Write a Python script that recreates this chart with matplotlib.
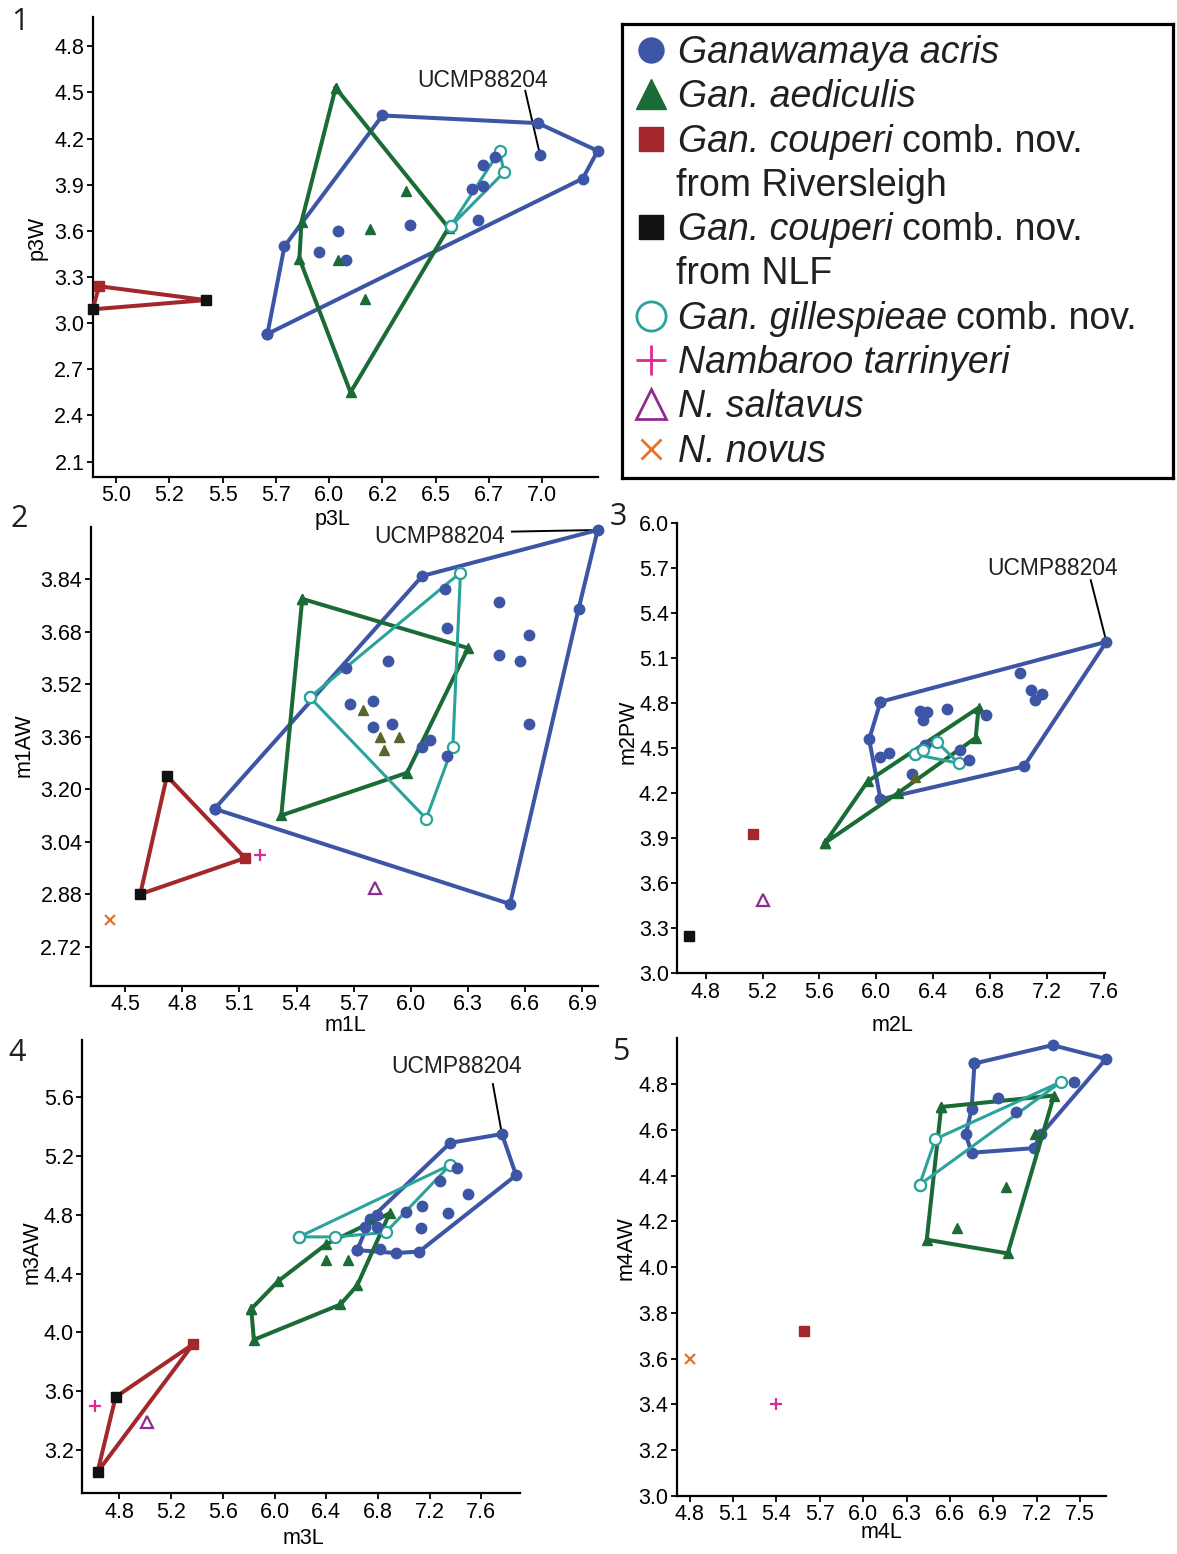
import matplotlib
matplotlib.use('Agg')
import matplotlib.pyplot as plt

plt.rcParams['font.family'] = ['Liberation Sans', 'DejaVu Sans']

W, H = 1177, 1554

BLUE = '#3d55a5'
GREEN = '#1b6b36'
OLIVE = '#56672c'
RED = '#a4282b'
BLACK = '#111111'
TEAL = '#2aa39b'
MAGENTA = '#dd2a8e'
PURPLE = '#8e2d8f'
ORANGE = '#e2732a'
INK = '#231f20'

# ---- panel 1: p3L vs p3W ----
p1_acris_hull = [(5.71, 2.93), (5.79, 3.50), (6.25, 4.35), (6.98, 4.30), (7.26, 4.12), (7.19, 3.94)]
p1_acris = [(6.04, 3.60), (5.95, 3.46), (6.08, 3.41), (6.38, 3.64), (6.70, 3.67), (6.67, 3.87),
            (6.72, 3.89), (6.72, 4.03), (6.78, 4.08), (6.99, 4.09)]
p1_aed_hull = [(6.03, 4.53), (6.56, 3.62), (6.10, 2.55), (5.86, 3.42), (5.87, 3.66)]
p1_aed = [(6.36, 3.86), (6.19, 3.61), (6.04, 3.41), (6.17, 3.16)]
p1_gill_hull = [(6.57, 3.63), (6.80, 4.12), (6.82, 3.98)]
p1_coup_r = [(4.92, 3.24)]
p1_coup_n = [(5.42, 3.15), (4.89, 3.09)]
p1_ucmp = (6.99, 4.09)

# ---- panel 2: m1L vs m1AW ----
p2_acris_hull = [(4.97, 3.14), (6.06, 3.85), (6.98, 3.99), (6.88, 3.75), (6.52, 2.85)]
p2_acris = [(5.66, 3.57), (6.18, 3.81), (6.19, 3.69), (6.46, 3.77), (6.62, 3.67), (6.46, 3.61),
            (6.57, 3.59), (5.88, 3.59), (5.68, 3.46), (5.80, 3.47), (5.80, 3.39), (5.90, 3.40),
            (6.10, 3.35), (6.06, 3.33), (6.19, 3.30), (6.62, 3.40)]
p2_aed_hull = [(5.43, 3.78), (6.30, 3.63), (5.98, 3.25), (5.32, 3.12)]
p2_aed = [(5.75, 3.44), (5.84, 3.36), (5.94, 3.36), (5.86, 3.32)]
p2_gill_hull = [(5.47, 3.48), (6.26, 3.86), (6.22, 3.33), (6.08, 3.11)]
p2_coup_r = [(5.13, 2.99)]
p2_coup_n = [(4.72, 3.24), (4.58, 2.88)]
p2_tarr = [(5.21, 3.00)]
p2_salt = [(5.81, 2.90)]
p2_novus = [(4.42, 2.80)]
p2_ucmp = (6.98, 3.99)

# ---- panel 3: m2L vs m2PW ----
p3_acris_hull = [(6.03, 4.81), (7.62, 5.21), (7.04, 4.38), (6.03, 4.16), (5.95, 4.56)]
p3_acris = [(6.31, 4.75), (6.36, 4.74), (6.33, 4.69), (6.50, 4.76), (6.77, 4.72), (7.01, 5.00),
            (7.09, 4.89), (7.17, 4.86), (7.12, 4.82), (6.03, 4.44), (6.09, 4.47), (6.25, 4.33),
            (6.59, 4.49), (6.65, 4.42), (6.34, 4.52)]
p3_aed_hull = [(5.64, 3.87), (5.94, 4.28), (6.72, 4.77), (6.70, 4.57), (6.15, 4.20)]
p3_aed = [(6.27, 4.31)]
p3_gill_hull = [(6.27, 4.46), (6.43, 4.54), (6.58, 4.40)]
p3_gill = [(6.33, 4.49)]
p3_coup_r = [(5.13, 3.93)]
p3_coup_n = [(4.68, 3.25)]
p3_salt = [(5.20, 3.49)]
p3_ucmp = (7.62, 5.21)

# ---- panel 4: m3L vs m3AW ----
p4_acris_hull = [(6.64, 4.56), (6.74, 4.77), (7.36, 5.29), (7.76, 5.35), (7.87, 5.07),
                 (7.12, 4.55), (6.94, 4.54)]
p4_acris = [(6.70, 4.72), (6.79, 4.72), (6.82, 4.57), (7.02, 4.82), (7.14, 4.86), (7.13, 4.71),
            (7.28, 5.03), (7.34, 4.81), (7.41, 5.12), (7.50, 4.94), (6.79, 4.80)]
p4_aed_hull = [(5.82, 4.16), (6.03, 4.35), (6.40, 4.60), (6.89, 4.81), (6.64, 4.32),
               (6.51, 4.19), (5.84, 3.95)]
p4_aed = [(6.40, 4.49), (6.57, 4.49)]
p4_gill_hull = [(6.19, 4.65), (7.36, 5.14), (6.86, 4.68), (6.47, 4.65)]
p4_coup_r = [(5.37, 3.92)]
p4_coup_n = [(4.77, 3.56), (4.63, 3.05)]
p4_tarr = [(4.61, 3.50)]
p4_salt = [(5.01, 3.39)]
p4_ucmp = (7.76, 5.35)

# ---- panel 5: m4L vs m4AW ----
p5_acris_hull = [(6.77, 4.89), (7.31, 4.97), (7.68, 4.91), (7.23, 4.58), (7.18, 4.52),
                 (6.75, 4.50), (6.71, 4.58), (6.75, 4.69)]
p5_acris = [(6.93, 4.74), (7.06, 4.68), (7.46, 4.81)]
p5_aed_hull = [(6.54, 4.70), (7.32, 4.75), (7.00, 4.06), (6.44, 4.12)]
p5_aed = [(6.65, 4.17), (6.99, 4.35), (7.19, 4.58)]
p5_gill_hull = [(6.39, 4.36), (6.50, 4.56), (7.37, 4.81)]
p5_coup_r = [(5.59, 3.72)]
p5_tarr = [(5.40, 3.40)]
p5_novus = [(4.80, 3.60)]

legend_italic = ['Ganawamaya acris', 'Gan. aediculis', 'Gan. couperi', '', 'Gan. couperi', '',
                 'Gan. gillespieae', 'Nambaroo tarrinyeri', 'N. saltavus', 'N. novus']
legend_plain = ['', '', 'comb. nov.', 'from Riversleigh', 'comb. nov.', 'from NLF',
                'comb. nov.', '', '', '']


def box(l, t, r, b):
    return [l / W, 1 - b / H, (r - l) / W, (b - t) / H]


def xs(p):
    return [q[0] for q in p]


def ys(p):
    return [q[1] for q in p]


def hull(ax, p, color, marker, lw=2.9, ms=7.5, open_marker=False):
    x = xs(p) + [p[0][0]]
    y = ys(p) + [p[0][1]]
    if open_marker:
        ax.plot(x, y, color=color, lw=lw, marker=marker, ms=ms, mfc='white', mec=color,
                mew=1.6, clip_on=False, zorder=3)
    else:
        ax.plot(x, y, color=color, lw=lw, marker=marker, ms=ms, clip_on=False, zorder=3)


def line_only(ax, p, color, lw=2.9):
    ax.plot(xs(p) + [p[0][0]], ys(p) + [p[0][1]], color=color, lw=lw, clip_on=False, zorder=3)


def pts(ax, p, color, marker, ms=7.5, mfc=None, mew=1.0):
    ax.plot(xs(p), ys(p), ls='none', marker=marker, ms=ms, color=color,
            mfc=mfc if mfc else color, mec=color, mew=mew, clip_on=False, zorder=4)


def setup(ax, xlim, ylim, xt, xtl, yt, ytl, xlabel, ylabel, xlc, ylc):
    ax.set_xlim(xlim)
    ax.set_ylim(ylim)
    ax.set_xticks(xt)
    ax.set_xticklabels(xtl)
    ax.set_yticks(yt)
    ax.set_yticklabels(ytl)
    for s in ['top', 'right']:
        ax.spines[s].set_visible(False)
    for s in ['left', 'bottom']:
        ax.spines[s].set_linewidth(1.6)
    ax.tick_params(direction='out', length=4, width=1.3, labelsize=15.5, pad=2, colors='black')
    ax.set_xlabel(xlabel, fontsize=15.5)
    ax.set_ylabel(ylabel, fontsize=15.5)
    ax.xaxis.label.set_va('center')
    ax.yaxis.label.set_va('center')
    ax.xaxis.set_label_coords(*xlc)
    ax.yaxis.set_label_coords(*ylc)
    ax.patch.set_alpha(0)


def ucmp(ax, txt, start, pt):
    ax.text(txt[0], txt[1], 'UCMP88204', ha='center', va='center', fontsize=16.5, color=INK)
    ax.plot([start[0], pt[0]], [start[1], pt[1]], color='black', lw=1.4, clip_on=False, zorder=2)


fig = plt.figure(figsize=(W / 100, H / 100), dpi=100)

# panel 1
ax1 = fig.add_axes(box(92.7, 17, 597.7, 477))
setup(ax1, (4.89, 7.26), (2.0, 4.99),
      [5.0, 5.25, 5.5, 5.75, 6.0, 6.25, 6.5, 6.75, 7.0],
      ['5.0', '5.2', '5.5', '5.7', '6.0', '6.2', '6.5', '6.7', '7.0'],
      [2.1, 2.4, 2.7, 3.0, 3.3, 3.6, 3.9, 4.2, 4.5, 4.8],
      ['2.1', '2.4', '2.7', '3.0', '3.3', '3.6', '3.9', '4.2', '4.5', '4.8'],
      'p3L', 'p3W', (0.474, -0.092), (-0.110, 0.52))
hull(ax1, p1_acris_hull, BLUE, 'o')
hull(ax1, p1_aed_hull, GREEN, '^')
hull(ax1, p1_gill_hull, TEAL, 'o', lw=2.2, ms=8, open_marker=True)
line_only(ax1, p1_coup_r + p1_coup_n, RED)
pts(ax1, p1_acris, BLUE, 'o')
pts(ax1, p1_aed, GREEN, '^')
pts(ax1, p1_coup_r, RED, 's', ms=7)
pts(ax1, p1_coup_n, BLACK, 's', ms=7)
ucmp(ax1, (6.72, 4.58), (6.92, 4.51), p1_ucmp)

# panel 2
ax2 = fig.add_axes(box(90.7, 526.7, 597.7, 986))
setup(ax2, (4.32, 6.98), (2.60, 4.00),
      [4.5, 4.8, 5.1, 5.4, 5.7, 6.0, 6.3, 6.6, 6.9],
      ['4.5', '4.8', '5.1', '5.4', '5.7', '6.0', '6.3', '6.6', '6.9'],
      [2.72, 2.88, 3.04, 3.20, 3.36, 3.52, 3.68, 3.84],
      ['2.72', '2.88', '3.04', '3.20', '3.36', '3.52', '3.68', '3.84'],
      'm1L', 'm1AW', (0.502, -0.085), (-0.132, 0.525))
hull(ax2, p2_acris_hull, BLUE, 'o')
hull(ax2, p2_aed_hull, GREEN, '^')
hull(ax2, p2_gill_hull, TEAL, 'o', lw=2.2, ms=8, open_marker=True)
line_only(ax2, p2_coup_n[:1] + p2_coup_r + p2_coup_n[1:], RED)
pts(ax2, p2_acris, BLUE, 'o')
pts(ax2, p2_aed, OLIVE, '^')
pts(ax2, p2_coup_r, RED, 's', ms=7)
pts(ax2, p2_coup_n, BLACK, 's', ms=7)
pts(ax2, p2_tarr, MAGENTA, '+', ms=8, mew=1.6)
pts(ax2, p2_salt, PURPLE, '^', ms=8, mfc='white', mew=1.6)
pts(ax2, p2_novus, ORANGE, 'x', ms=7, mew=1.6)
ucmp(ax2, (6.15, 3.97), (6.53, 3.985), p2_ucmp)

# panel 3
ax3 = fig.add_axes(box(677.3, 523.3, 1105, 973.3))
setup(ax3, (4.60, 7.61), (3.0, 6.0),
      [4.8, 5.2, 5.6, 6.0, 6.4, 6.8, 7.2, 7.6],
      ['4.8', '5.2', '5.6', '6.0', '6.4', '6.8', '7.2', '7.6'],
      [3.0, 3.3, 3.6, 3.9, 4.2, 4.5, 4.8, 5.1, 5.4, 5.7, 6.0],
      ['3.0', '3.3', '3.6', '3.9', '4.2', '4.5', '4.8', '5.1', '5.4', '5.7', '6.0'],
      'm2L', 'm2PW', (0.504, -0.115), (-0.115, 0.536))
hull(ax3, p3_acris_hull, BLUE, 'o')
hull(ax3, p3_aed_hull, GREEN, '^')
hull(ax3, p3_gill_hull, TEAL, 'o', lw=2.2, ms=8, open_marker=True)
pts(ax3, p3_acris, BLUE, 'o')
pts(ax3, p3_aed, OLIVE, '^')
pts(ax3, p3_gill, TEAL, 'o', ms=8, mfc='white', mew=1.6)
pts(ax3, p3_coup_r, RED, 's', ms=7)
pts(ax3, p3_coup_n, BLACK, 's', ms=7)
pts(ax3, p3_salt, PURPLE, '^', ms=8, mfc='white', mew=1.6)
ucmp(ax3, (7.24, 5.70), (7.51, 5.62), p3_ucmp)

# panel 4
ax4 = fig.add_axes(box(82, 1040, 520, 1493.3))
setup(ax4, (4.51, 7.90), (2.905, 5.99),
      [4.8, 5.2, 5.6, 6.0, 6.4, 6.8, 7.2, 7.6],
      ['4.8', '5.2', '5.6', '6.0', '6.4', '6.8', '7.2', '7.6'],
      [3.2, 3.6, 4.0, 4.4, 4.8, 5.2, 5.6],
      ['3.2', '3.6', '4.0', '4.4', '4.8', '5.2', '5.6'],
      'm3L', 'm3AW', (0.505, -0.099), (-0.114, 0.532))
hull(ax4, p4_acris_hull, BLUE, 'o')
hull(ax4, p4_aed_hull, GREEN, '^')
hull(ax4, p4_gill_hull, TEAL, 'o', lw=2.2, ms=8, open_marker=True)
line_only(ax4, p4_coup_n[:1] + p4_coup_r + p4_coup_n[1:], RED)
pts(ax4, p4_acris, BLUE, 'o')
pts(ax4, p4_aed, GREEN, '^')
pts(ax4, p4_coup_r, RED, 's', ms=7)
pts(ax4, p4_coup_n, BLACK, 's', ms=7)
pts(ax4, p4_tarr, MAGENTA, '+', ms=8, mew=1.6)
pts(ax4, p4_salt, PURPLE, '^', ms=8, mfc='white', mew=1.6)
ucmp(ax4, (7.41, 5.81), (7.69, 5.69), p4_ucmp)

# panel 5
ax5 = fig.add_axes(box(676.7, 1038.3, 1106, 1496))
setup(ax5, (4.71, 7.68), (3.0, 5.0),
      [4.8, 5.1, 5.4, 5.7, 6.0, 6.3, 6.6, 6.9, 7.2, 7.5],
      ['4.8', '5.1', '5.4', '5.7', '6.0', '6.3', '6.6', '6.9', '7.2', '7.5'],
      [3.0, 3.2, 3.4, 3.6, 3.8, 4.0, 4.2, 4.4, 4.6, 4.8],
      ['3.0', '3.2', '3.4', '3.6', '3.8', '4.0', '4.2', '4.4', '4.6', '4.8'],
      'm4L', 'm4AW', (0.478, -0.080), (-0.118, 0.542))
hull(ax5, p5_acris_hull, BLUE, 'o')
hull(ax5, p5_aed_hull, GREEN, '^')
hull(ax5, p5_gill_hull, TEAL, 'o', lw=2.2, ms=8, open_marker=True)
pts(ax5, p5_acris, BLUE, 'o')
pts(ax5, p5_aed, GREEN, '^')
pts(ax5, p5_coup_r, RED, 's', ms=7)
pts(ax5, p5_tarr, MAGENTA, '+', ms=8, mew=1.6)
pts(ax5, p5_novus, ORANGE, 'x', ms=7, mew=1.6)

# panel numbers
for num, (px, py) in zip('12345', [(20, 22), (19, 519), (618, 517), (17, 1053), (621, 1052)]):
    fig.text(px / W, 1 - py / H, num, fontsize=22, color=INK, ha='center', va='center',
             family='Open Sans')

# legend box
lg = fig.add_axes(box(622, 24, 1173, 478))
lg.set_xlim(0, 551)
lg.set_ylim(454, 0)
lg.set_xticks([])
lg.set_yticks([])
for s in lg.spines.values():
    s.set_linewidth(2.3)
    s.set_color('black')

leg_markers = [dict(marker='o', color=BLUE, ms=18),
               dict(marker='^', color=GREEN, ms=21),
               dict(marker='s', color=RED, ms=17),
               None,
               dict(marker='s', color=BLACK, ms=17),
               None,
               dict(marker='o', color=TEAL, mfc='white', ms=21, mew=2),
               dict(marker='+', color=MAGENTA, ms=21, mew=2),
               dict(marker='^', color=PURPLE, mfc='white', ms=21, mew=2),
               dict(marker='x', color=ORANGE, ms=15, mew=2)]

italic_texts = []
for i in range(10):
    base = 39 + 44.3 * i
    m = leg_markers[i]
    if m is not None:
        lg.plot([29], [base - 13], ls='none', clip_on=False, **m)
    if legend_italic[i]:
        t = lg.text(56, base, legend_italic[i], fontsize=27, style='italic', color=INK,
                    va='baseline', ha='left')
        italic_texts.append((i, t))
    else:
        lg.text(54, base, legend_plain[i], fontsize=27, color=INK, va='baseline', ha='left')

fig.canvas.draw()
inv = lg.transData.inverted()
for i, t in italic_texts:
    if legend_plain[i]:
        bb = t.get_window_extent()
        x_end = inv.transform((bb.x1, bb.y0))[0]
        lg.text(x_end + 9, 39 + 44.3 * i, legend_plain[i], fontsize=27, color=INK,
                va='baseline', ha='left')

fig.savefig('out.png', dpi=100)
